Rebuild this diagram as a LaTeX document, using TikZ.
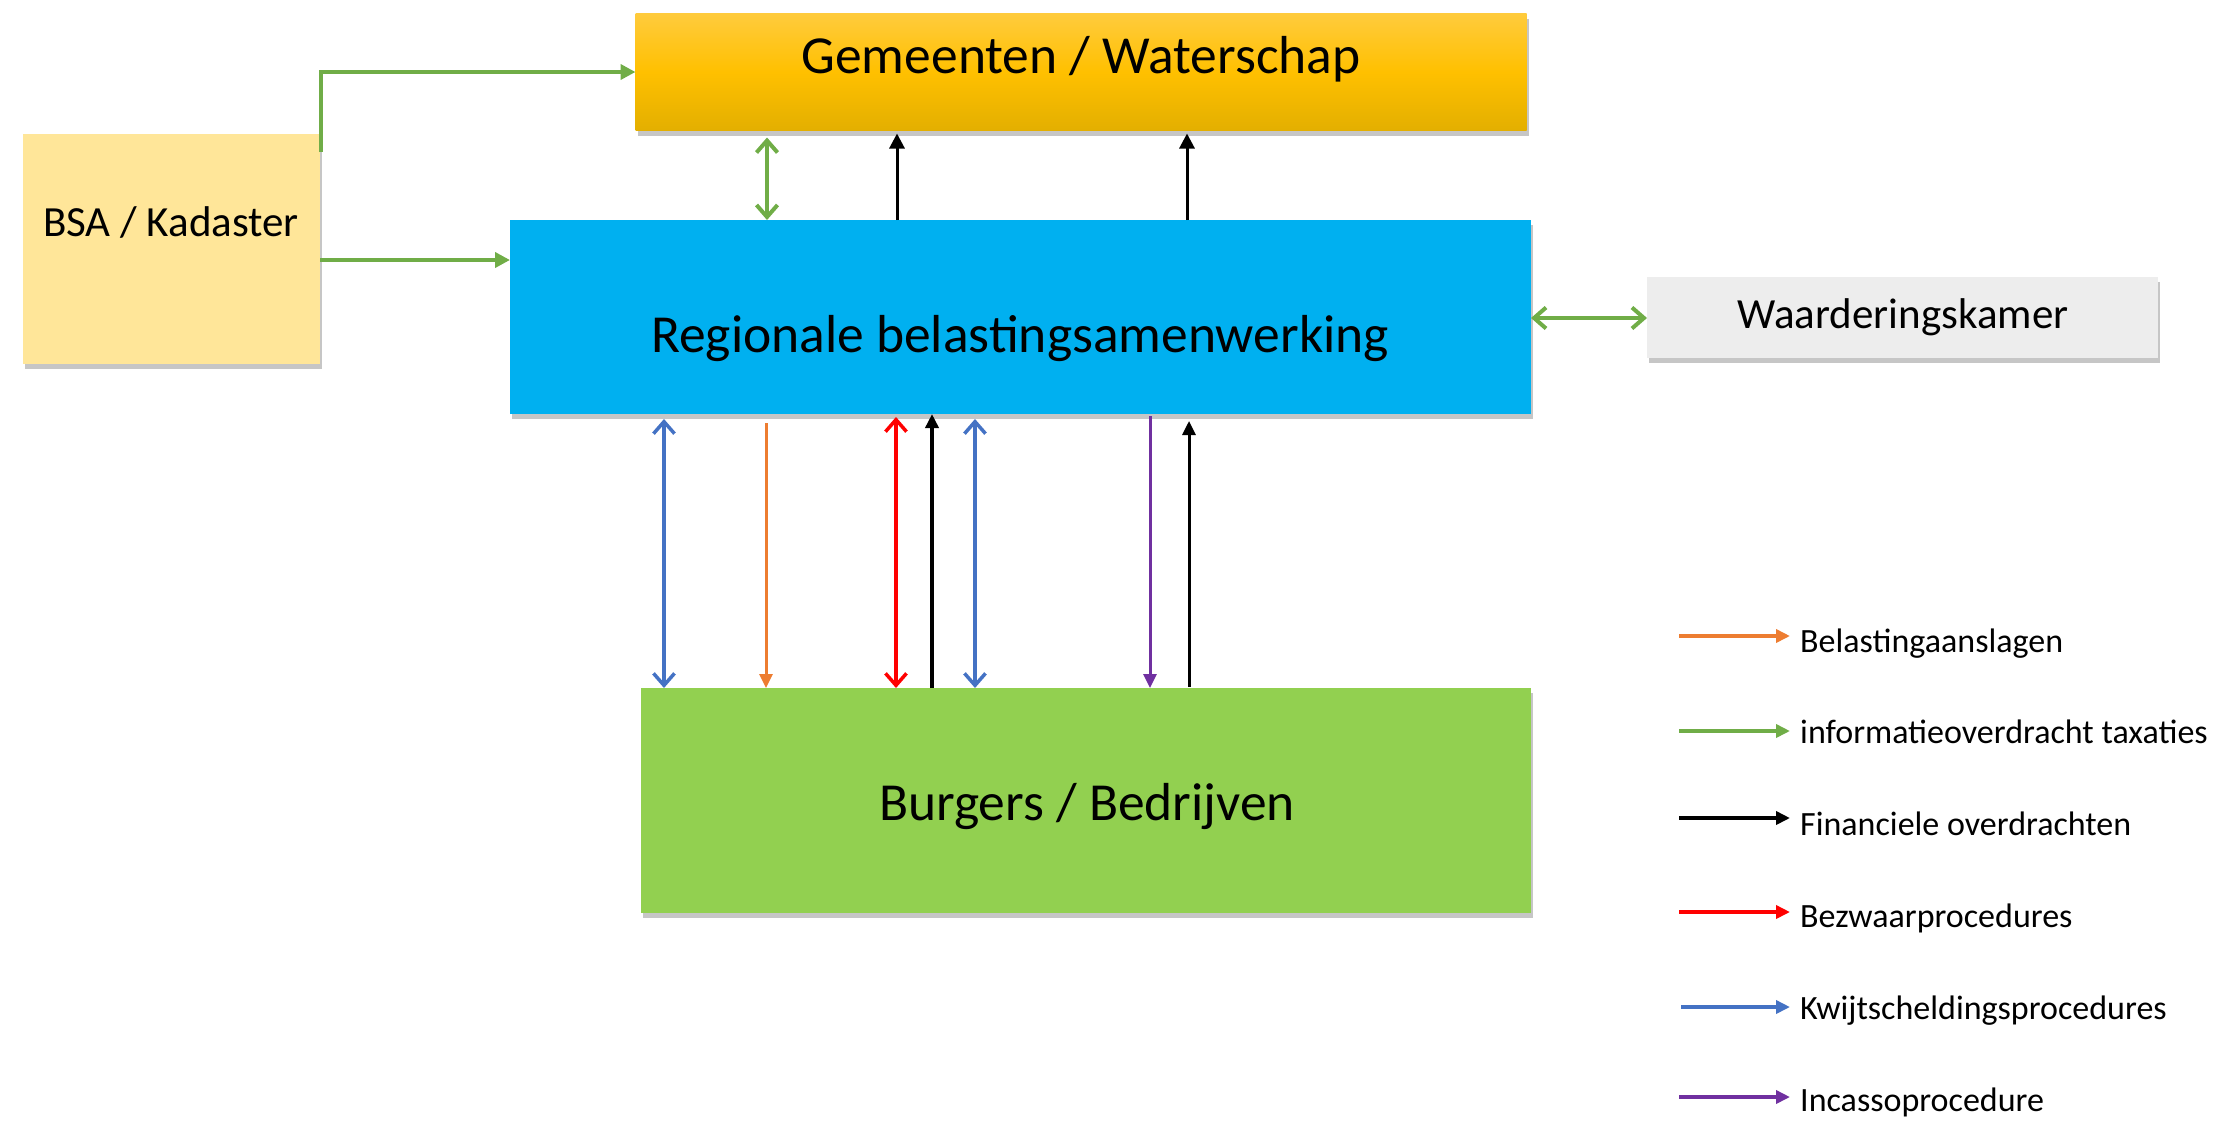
\documentclass[tikz,border=0pt]{standalone}
\usepackage{fontspec}
\setmainfont{Carlito}
\usetikzlibrary{arrows.meta,shadows}
\definecolor{cOrange}{HTML}{ED7D31}
\definecolor{cGreen}{HTML}{70AD47}
\definecolor{cRed}{HTML}{FF0000}
\definecolor{cBlue}{HTML}{4472C4}
\definecolor{cPurple}{HTML}{7030A0}
\definecolor{gemTop}{HTML}{FFCB3D}
\definecolor{gemMid}{HTML}{FFC000}
\definecolor{gemBot}{HTML}{E3AF00}
\definecolor{bsaC}{HTML}{FFE699}
\definecolor{regC}{HTML}{00B0F0}
\definecolor{waaC}{HTML}{EDEDED}
\definecolor{burC}{HTML}{92D050}
\tikzset{
  myb/.tip={Straight Barb[length=12pt,width=21pt]},
  myt/.tip={Triangle[length=15pt,width=15pt]},
  mys/.tip={Triangle[length=14pt,width=13pt]},
}
\begin{document}
\begin{tikzpicture}[x=1pt,y=-1pt,
  box/.style={rectangle, inner sep=0pt, outer sep=0pt,
    drop shadow={shadow xshift=2pt, shadow yshift=-5pt, opacity=0.45}},
  big/.style={font=\fontsize{53.5}{60}\selectfont, inner sep=0pt, anchor=base},
  mid/.style={font=\fontsize{43}{50}\selectfont, inner sep=0pt, anchor=base},
  leg/.style={font=\fontsize{34}{40}\selectfont, inner sep=0pt, anchor=base west},
  gline/.style={draw=cGreen, line width=4pt},
  legline/.style={line width=4.5pt, -mys, shorten >=10pt},
]
\useasboundingbox (0,0) rectangle (2236,1120);

% boxes
\node[box, top color=gemTop, bottom color=gemBot, middle color=gemMid,
      minimum width=891pt, minimum height=117pt] (gem) at (1081,72) {};
\node[box, fill=bsaC, minimum width=297pt, minimum height=230pt] (bsa) at (171.5,249) {};
\node[box, fill=regC, minimum width=1021pt, minimum height=194pt] (reg) at (1020.5,317) {};
\node[box, fill=waaC, minimum width=511pt, minimum height=81pt] (waa) at (1902.5,317.5) {};
\node[box, fill=burC, minimum width=890pt, minimum height=225pt] (bur) at (1086,800.5) {};

% texts
\node[big] (gemT) at (1081,73) {Gemeenten / Waterschap};
\node[mid] (bsaT) at (171,236) {BSA / Kadaster};
\node[big] (regT) at (1020,352) {Regionale belastingsamenwerking};
\node[mid] (waaT) at (1903,328) {Waarderingskamer};
\node[big] (burT) at (1087,820) {Burgers / Bedrijven};

% top connectors
\coordinate (e1) at (321,152);
\draw[gline, -myt] (e1) |- (gem.west |- 0,72);
\draw[gline, -myt] (bsa.east |- 0,260) -- (reg.west |- 0,260);
\draw[gline, myb-myb, shorten <=7pt] (gem.south -| 767,0) -- (reg.north -| 767,0);
\draw[line width=3pt, -myt, shorten >=3pt] (reg.north -| 897,0) -- (gem.south -| 897,0);
\draw[line width=3pt, -myt, shorten >=3pt] (reg.north -| 1187,0) -- (gem.south -| 1187,0);
\draw[gline, myb-myb] (reg.east |- 0,318) -- (waa.west |- 0,318);

% bottom connectors
\draw[draw=cBlue, line width=3.5pt, myb-myb, shorten <=5pt] (reg.south -| 664,0) -- (bur.north -| 664,0);
\draw[draw=cOrange, line width=3pt, -mys, shorten <=9pt] (reg.south -| 766,0) -- (bur.north -| 766,0);
\draw[draw=cRed, line width=3.5pt, myb-myb, shorten <=3pt] (reg.south -| 896,0) -- (bur.north -| 896,0);
\draw[line width=3.5pt, -mys] (bur.north -| 932,0) -- (reg.south -| 932,0);
\draw[draw=cBlue, line width=3.5pt, myb-myb, shorten <=5pt] (reg.south -| 975,0) -- (bur.north -| 975,0);
\draw[draw=cPurple, line width=3pt, -mys, shorten <=2pt] (reg.south -| 1150,0) -- (bur.north -| 1150,0);
\draw[line width=3pt, -mys, shorten <=1pt, shorten >=7pt] (bur.north -| 1189,0) -- (reg.south -| 1189,0);

% legend
\node[leg] (l1) at (1800,652) {Belastingaanslagen};
\node[leg] (l2) at (1800,743) {informatieoverdracht taxaties};
\node[leg] (l3) at (1800,835) {Financiele overdrachten};
\node[leg] (l4) at (1800,927) {Bezwaarprocedures};
\node[leg] (l5) at (1800,1019) {Kwijtscheldingsprocedures};
\node[leg] (l6) at (1800,1111) {Incassoprocedure};
\coordinate (s1) at (1679,636);
\coordinate (s2) at (1679,731);
\coordinate (s3) at (1679,818);
\coordinate (s4) at (1679,912);
\coordinate (s5) at (1681,1007);
\coordinate (s6) at (1679,1097);
\draw[legline, draw=cOrange, fill=cOrange] (s1) -- (s1 -| l1.west);
\draw[legline, draw=cGreen, fill=cGreen] (s2) -- (s2 -| l2.west);
\draw[legline, draw=black] (s3) -- (s3 -| l3.west);
\draw[legline, draw=cRed] (s4) -- (s4 -| l4.west);
\draw[legline, draw=cBlue] (s5) -- (s5 -| l5.west);
\draw[legline, draw=cPurple] (s6) -- (s6 -| l6.west);
\end{tikzpicture}
\end{document}
